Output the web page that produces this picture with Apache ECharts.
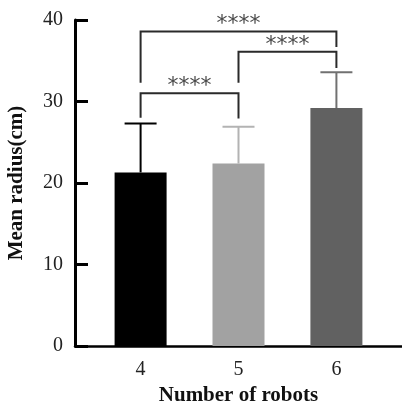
<!DOCTYPE html>
<html>
<head>
<meta charset="utf-8">
<script src="https://cdn.jsdelivr.net/npm/echarts@6/dist/echarts.min.js"></script>
<style>
html,body{margin:0;padding:0;background:#fff;}
#chart{width:402px;height:406px;}
</style>
</head>
<body>
<div id="chart"></div>
<script>
// ---- data ----
const categories = [4, 5, 6];
const means = [21.3, 22.4, 29.2];
const errors = [6.0, 4.5, 4.4];
const yTicks = [0, 10, 20, 30, 40];
// brackets: from category, to category, top, left leg bottom, right leg bottom
const bracketFrom = [4, 5, 4];
const bracketTo = [5, 6, 6];
const bracketTop = [31.0, 36.1, 38.6];
const bracketLeftEnd = [28.0, 32.3, 32.3];
const bracketRightEnd = [27.9, 34.1, 36.7];
const bracketLabels = ['****', '****', '****'];

// ---- styles ----
const barColors = ['#000000', '#a2a2a2', '#616161'];
const errColors = ['#000000', '#b3b3b3', '#717171'];
const serif = '"Liberation Serif", "DejaVu Serif", serif';

const chart = echarts.init(document.getElementById('chart'));

const barData = categories.map((c, i) => ({
  value: [c, means[i]],
  itemStyle: { color: barColors[i] }
}));
const errData = categories.map((c, i) => [c, means[i], means[i] + errors[i], i]);
const bracketData = bracketFrom.map((f, i) => [f, bracketTo[i], bracketTop[i], bracketLeftEnd[i], bracketRightEnd[i], i]);

chart.setOption({
  animation: false,
  backgroundColor: '#fff',
  grid: { left: 75, right: 0, top: 20, bottom: 60, containLabel: false, outerBoundsMode: 'none' },
  xAxis: {
    type: 'value',
    min: 3.33,
    max: 6.67,
    name: 'Number of robots',
    nameLocation: 'middle',
    nameGap: 38,
    nameTextStyle: { fontFamily: serif, fontWeight: 'bold', fontSize: 21, color: '#111' },
    axisLine: { show: true, onZero: false, lineStyle: { color: '#000', width: 2.5 } },
    axisTick: { show: false },
    splitLine: { show: false },
    axisLabel: {
      customValues: categories,
      fontFamily: serif, fontSize: 20, color: '#222', margin: 14,
      formatter: v => String(v)
    }
  },
  yAxis: {
    type: 'value',
    min: 0,
    max: 40,
    interval: 10,
    name: 'Mean radius(cm)',
    nameLocation: 'middle',
    nameGap: 48,
    nameTextStyle: { fontFamily: serif, fontWeight: 'bold', fontSize: 21, color: '#111' },
    axisLine: { show: true, lineStyle: { color: '#000', width: 3 } },
    axisTick: { show: true, inside: true, length: 13, lineStyle: { color: '#000', width: 3 } },
    splitLine: { show: false },
    axisLabel: {
      customValues: yTicks,
      fontFamily: serif, fontSize: 20, color: '#222', margin: 12
    }
  },
  series: [
    {
      type: 'bar',
      barWidth: 52,
      data: barData,
      z: 2
    },
    {
      type: 'custom',
      z: 1,
      data: errData,
      renderItem: function (params, api) {
        const x = api.value(0);
        const p0 = api.coord([x, api.value(1)]);
        const p1 = api.coord([x, api.value(2)]);
        const col = errColors[api.value(3)];
        const half = 16;
        return {
          type: 'group',
          children: [
            { type: 'line', shape: { x1: p0[0], y1: p0[1], x2: p1[0], y2: p1[1] }, style: { stroke: col, lineWidth: 2 } },
            { type: 'line', shape: { x1: p1[0] - half, y1: p1[1], x2: p1[0] + half, y2: p1[1] }, style: { stroke: col, lineWidth: 2 } }
          ]
        };
      }
    },
    {
      type: 'custom',
      z: 3,
      data: bracketData,
      renderItem: function (params, api) {
        const a = api.value(0), b = api.value(1), top = api.value(2);
        const pl = api.coord([a, api.value(3)]);
        const ptl = api.coord([a, top]);
        const ptr = api.coord([b, top]);
        const pr = api.coord([b, api.value(4)]);
        const idx = api.value(5);
        return {
          type: 'group',
          children: [
            {
              type: 'polyline',
              shape: { points: [pl, ptl, ptr, pr] },
              style: { stroke: '#2a2a2a', lineWidth: 2, fill: null }
            },
            {
              type: 'text',
              x: (ptl[0] + ptr[0]) / 2,
              y: ptl[1] + 4,
              style: {
                text: bracketLabels[idx],
                fontFamily: '"DejaVu Sans", sans-serif',
                fontSize: 22,
                fill: '#4a4a4a',
                align: 'center',
                verticalAlign: 'bottom'
              }
            }
          ]
        };
      }
    }
  ]
});
</script>
</body>
</html>
